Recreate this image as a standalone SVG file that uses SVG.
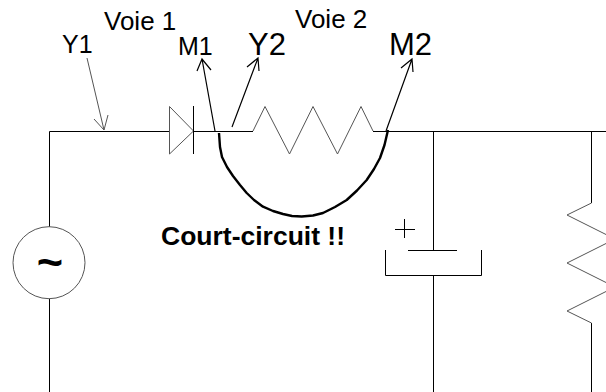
<svg xmlns="http://www.w3.org/2000/svg" width="606" height="392" viewBox="0 0 606 392">
<style>
text{font-family:"Liberation Sans",Arial,sans-serif;fill:#000}
.w{fill:none;stroke:#000;stroke-width:1}
.g{fill:none;stroke:#555;stroke-width:1}
.a{fill:none;stroke:#000;stroke-width:1.2}
</style>
<rect width="606" height="392" fill="#fff"/>
<g id="connectors">
<path class="w" d="M49.500 227V131.500H169.500M193.500 131.500H253M373 131.500H606M49.500 299V392M433.500 131.500V250M433.500 275V392M591.500 131.500V203M591.500 323V392"/>
<path id="short" d="M219 133 220 147 222 157 227 167 233 176 240 185 246.700 193 254 200 263 206.700 273 211 283 214 292 216 301.700 216.500 313 215.500 323 213 335 207 346.700 200 357 190.500 366.700 180 374 169 380 158 384.500 145 388 130" fill="none" stroke="#000" stroke-width="2.400" stroke-linejoin="round"/>
</g>
<g id="source"><circle cx="49" cy="262.700" r="36" fill="#fff" stroke="#555"/><text x="50" y="277" font-size="45" font-weight="700" text-anchor="middle">~</text></g>
<g id="diode"><path class="g" d="M169.500 106.500V154L193.500 131Z"/><path class="w" d="M193.500 106V154"/></g>
<g id="resistor-series"><path class="g" d="M253 131 265 106.500 289.500 154 313 106.500 337.500 154 361 106.500 373 131"/></g>
<g id="resistor-load"><path class="g" d="M591.500 203 567 215 615 239 567 263 615 287 567 311 591.500 323"/></g>
<g id="capacitor"><path class="w" d="M408 250.500H457M385.500 250V275.500H481.500V250M395 229.500H415M404.500 219V238"/></g>
<g id="probe-y1"><path class="g" d="M87 58 104 130M94 119 104 130 108 115"/><text x="62" y="53" font-size="25">Y1</text></g>
<g id="probe-m1"><path class="a" d="M215 131 202 59M197 71 202 59 211 70"/><text x="178" y="55" font-size="25">M1</text></g>
<g id="probe-y2"><path class="a" d="M232 127 258 58M247 67 258 58 259 71"/><text x="248" y="55" font-size="31">Y2</text></g>
<g id="probe-m2"><path class="a" d="M386 131 412 59M401 68 412 59 413 72"/><text x="389" y="55" font-size="31">M2</text></g>
<text x="104" y="30" font-size="26">Voie 1</text>
<text x="295" y="28" font-size="26">Voie 2</text>
<text x="161" y="245" font-size="26.500" font-weight="700">Court-circuit !!</text>
</svg>
